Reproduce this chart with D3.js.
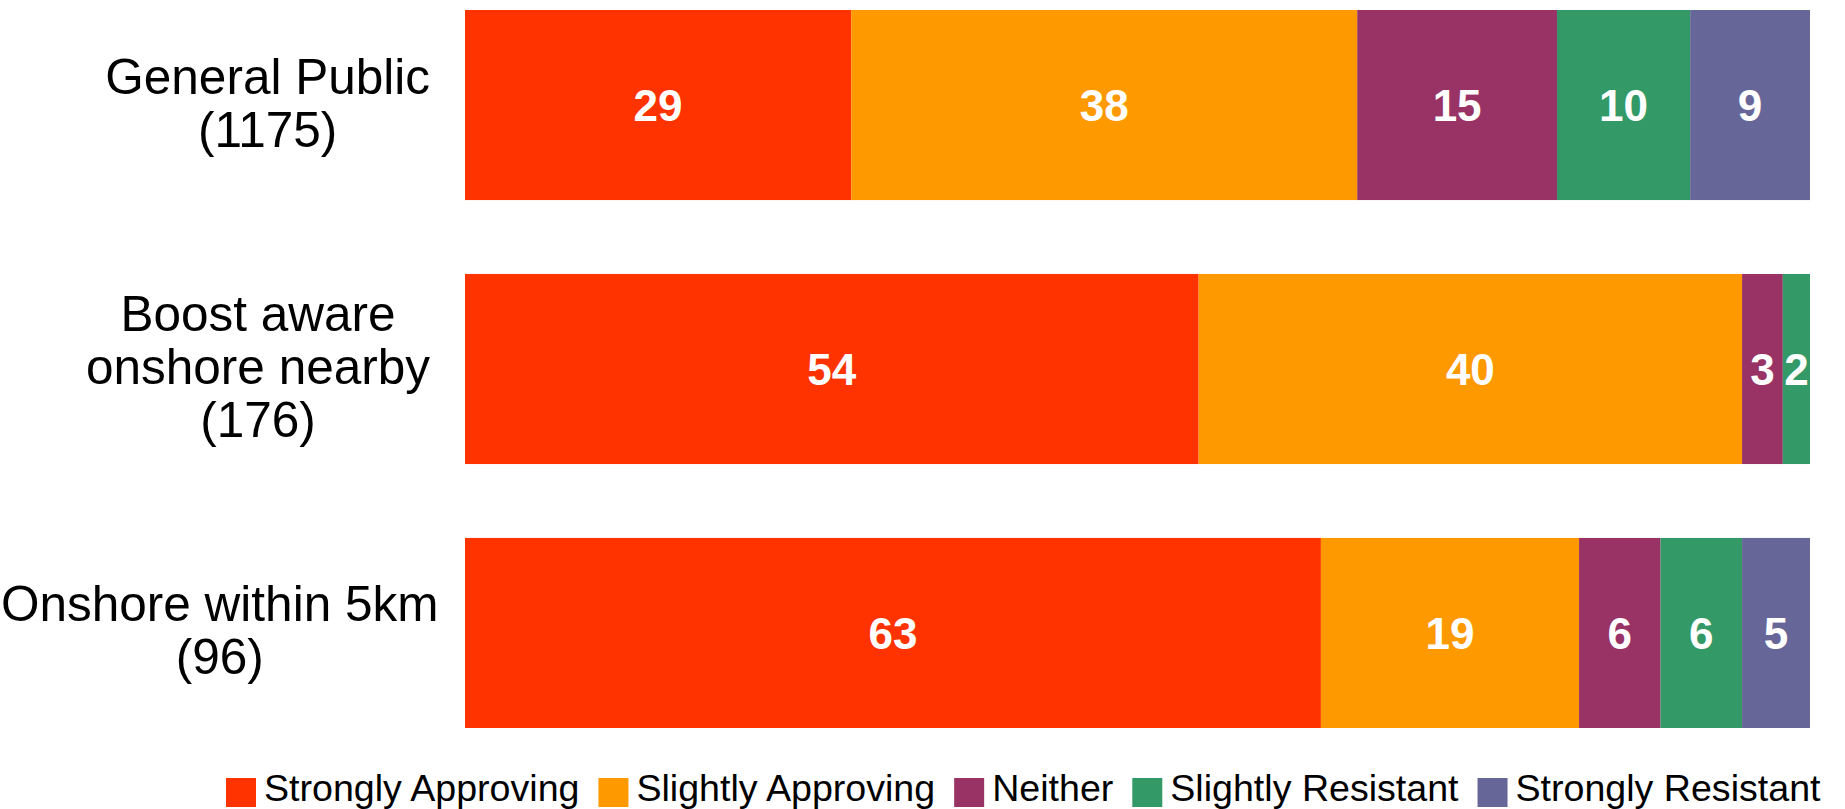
<!DOCTYPE html>
<html>
<head>
<meta charset="utf-8">
<script src="https://cdn.jsdelivr.net/npm/d3@7"></script>
<style>
  html, body { margin: 0; padding: 0; background: #fff; }
  svg { display: block; }
</style>
</head>
<body>
<svg id="chart" width="1845" height="809"></svg>
<script>
// ---- data ----
const categories = ["General Public\n(1175)", "Boost aware\nonshore nearby\n(176)", "Onshore within 5km\n(96)"];
const series = ["Strongly Approving", "Slightly Approving", "Neither", "Slightly Resistant", "Strongly Resistant"];
const stronglyApproving = [29, 54, 63];
const slightlyApproving = [38, 40, 19];
const neither = [15, 3, 6];
const slightlyResistant = [10, 2, 6];
const stronglyResistant = [9, 0, 5];
const colors = ["#FF3300", "#FF9900", "#993366", "#339966", "#666699"];

const valueArrays = [stronglyApproving, slightlyApproving, neither, slightlyResistant, stronglyResistant];
const rows = categories.map((c, i) => {
  const r = { category: c };
  series.forEach((s, j) => { r[s] = valueArrays[j][i]; });
  return r;
});

const svg = d3.select("#chart");
const W = 1845, H = 809;
svg.append("rect").attr("width", W).attr("height", H).attr("fill", "#fff");

const x = d3.scaleLinear().domain([0, 1]).range([465, 1810]);
const y = d3.scaleBand().domain(categories).range([10, 728]).paddingInner(0.28).paddingOuter(0);
const color = d3.scaleOrdinal().domain(series).range(colors);

const stacked = d3.stack().keys(series).offset(d3.stackOffsetExpand)(rows);

const layers = svg.append("g").selectAll("g").data(stacked).join("g")
  .attr("fill", d => color(d.key));

layers.selectAll("rect").data(d => d.map(p => ({ p, key: d.key })))
  .join("rect")
  .attr("x", d => x(d.p[0]))
  .attr("y", d => y(d.p.data.category))
  .attr("width", d => Math.max(0, x(d.p[1]) - x(d.p[0])))
  .attr("height", y.bandwidth());

// value labels
const lab = svg.append("g")
  .attr("font-family", "'Liberation Sans', Arial, sans-serif")
  .attr("font-weight", "bold")
  .attr("font-size", 44)
  .attr("fill", "#fff")
  .attr("text-anchor", "middle");
stacked.forEach(layer => {
  layer.forEach(p => {
    const v = p.data[layer.key];
    if (v > 0) {
      lab.append("text")
        .attr("x", (x(p[0]) + x(p[1])) / 2)
        .attr("y", y(p.data.category) + y.bandwidth() / 2 + 16)
        .text(v);
    }
  });
});

// category labels (block right-aligned, lines centred within block)
const catG = svg.append("g")
  .attr("font-family", "'Liberation Sans', Arial, sans-serif")
  .attr("font-size", 49.5)
  .attr("fill", "#000");
const blockRight = 430, lineH = 53;
categories.forEach(c => {
  const lines = c.split("\n");
  const cy = y(c) + y.bandwidth() / 2;
  const g = catG.append("g");
  const texts = lines.map((ln, i) => g.append("text")
    .attr("text-anchor", "middle")
    .attr("y", cy + 15 + (i - (lines.length - 1) / 2) * lineH)
    .text(ln));
  const maxW = d3.max(texts, t => t.node().getComputedTextLength());
  const cx = Math.max(blockRight - maxW / 2, maxW / 2 + 1);
  texts.forEach(t => t.attr("x", cx));
});

// legend
const leg = svg.append("g")
  .attr("font-family", "'Liberation Sans', Arial, sans-serif")
  .attr("font-size", 37.6)
  .attr("fill", "#000");
let lx = 226;
series.forEach(s => {
  leg.append("rect").attr("x", lx).attr("y", 778).attr("width", 30).attr("height", 29).attr("fill", color(s));
  const t = leg.append("text").attr("x", lx + 38).attr("y", 801).text(s);
  lx = lx + 38 + t.node().getComputedTextLength() + 19;
});
</script>
</body>
</html>
